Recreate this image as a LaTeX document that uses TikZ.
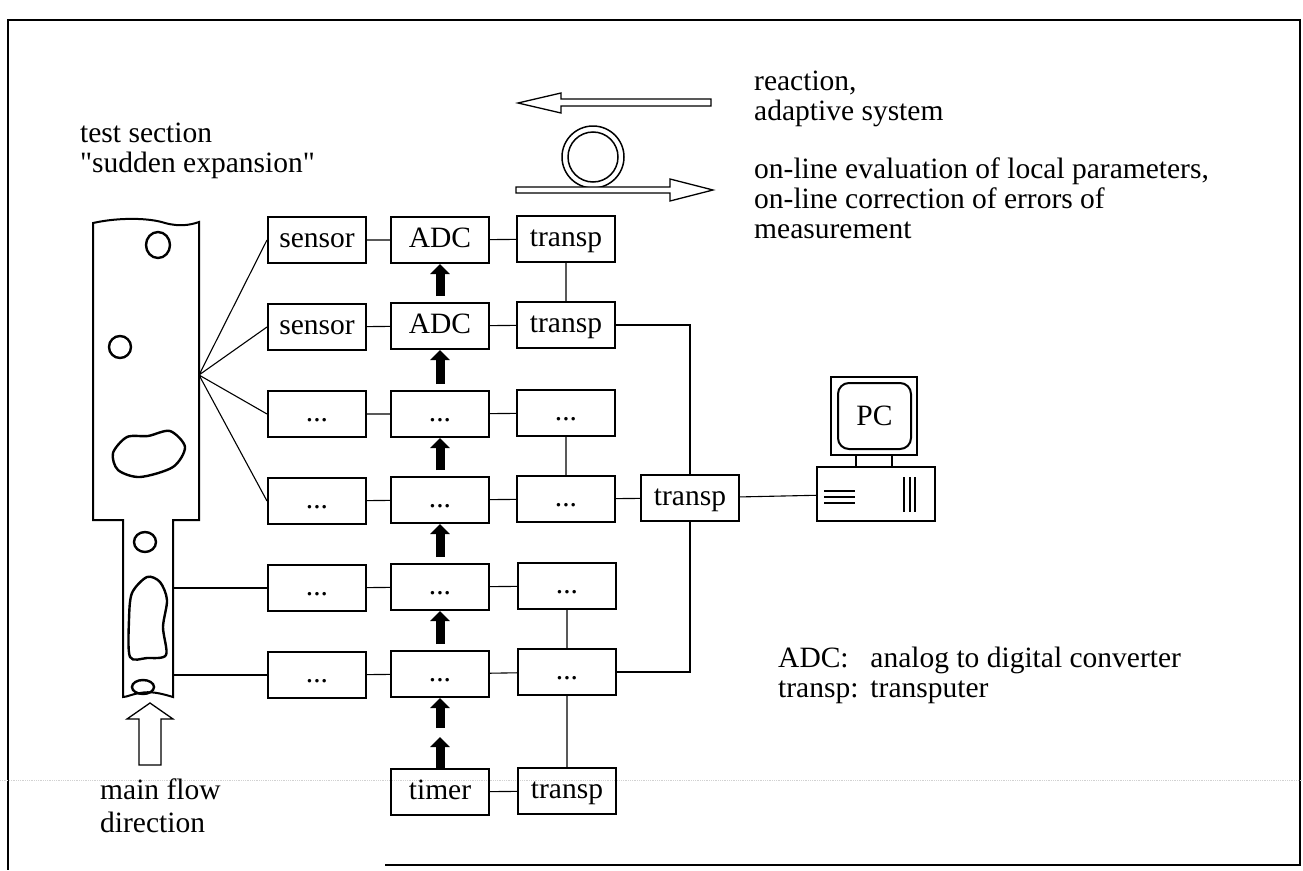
\documentclass[tikz,border=0pt]{standalone}
\usepackage{fontspec}
\setmainfont{Liberation Serif}[Ligatures=TeXOff]
\usepackage{tikz}
\usetikzlibrary{positioning, calc, arrows.meta}
\tikzset{box/.style = {draw, line width=2pt, minimum width=98pt, minimum height=46pt, inner sep=0pt,
                       text height=20pt, text depth=6pt},
         link/.style = {line width=1.1pt},
         bubble/.style = {line width=2.4pt},
         push/.style = {line width=9pt, -{Triangle[width=19pt,length=10pt]}},
         hollow/.style = {line width=1.3pt, fill=white},
         note/.style = {align=left, anchor=north west, inner sep=0pt}}

\begin{document}
\begin{tikzpicture}[x=1pt, y=-1pt, font=\fontsize{29.5}{30}\selectfont]
    \useasboundingbox (0,0) rectangle (1303,870);

    % frame
    \draw[line width=2pt] (385,865) -- (1300,865) -- (1300,20) -- (8,20) -- (8,870);
    \draw[gray!35, line width=0.8pt, densely dotted] (0,780) -- (1303,780);

    % test section
    \draw[line width=2pt] (93,223) .. controls (120,217) and (150,218) .. (165,223)
        .. controls (180,227) and (190,225) .. (199,222) -- (199,520) -- (173,520) -- (173,697)
        .. controls (160,693) and (150,691) .. (140,693) .. controls (132,694) and (127,697) .. (123,697)
        -- (123,520) -- (93,520) -- cycle;
    \draw[bubble] (158,245) ellipse[x radius=12, y radius=13];
    \draw[bubble] (120,347) circle[radius=11];
    \draw[bubble] plot[smooth cycle] coordinates {(113,453) (127,437) (148,436) (170,431) (185,447) (173,467) (140,477) (118,470)};
    \draw[bubble] (145,542) ellipse[x radius=11, y radius=10];
    \draw[bubble] plot[smooth cycle] coordinates {(147,577) (160,582) (167,600) (163,627) (166,655) (147,658) (130,657) (129,620) (132,593)};
    \draw[bubble] (143,687) ellipse[x radius=11, y radius=7];
    \coordinate (tap) at (199,375);
    \coordinate (neck) at (173,600);
    \draw[hollow] (139,765) -- (139,719) -- (127,719) -- (150,703) -- (173,719) -- (161,719) -- (161,765) -- cycle;

    \node[note] (title) at (80,123) {test section\\"sudden expansion"};
    \node[note] (flow) at (100,779) {main flow\\[3pt]direction};

    % feedback symbol
    \draw[hollow] (711,99) -- (561,99) -- (561,93) -- (518,103) -- (561,113) -- (561,106) -- (711,106) -- cycle;
    \draw[line width=1.5pt] (593,157) circle[radius=31];
    \draw[line width=1.5pt] (593,157) circle[radius=25];
    \draw[hollow] (516,187) -- (670,187) -- (670,179) -- (713,190) -- (670,201) -- (670,193) -- (516,193) -- cycle;
    \node[note] (react) at (754,71) {reaction,\\adaptive system};
    \node[note] (eval) at (754,158) {on-line evaluation of local parameters,\\on-line correction of errors of\\measurement};

    % measuring chains
    \node[box] (s1) at (317,240) {sensor};
    \node[box] (c1) at (440,240) {ADC};
    \node[box] (t1) at (566,239) {transp};
    \node[box] (s2) at (317,327) {sensor};
    \node[box] (c2) at (440,326) {ADC};
    \node[box] (t2) at (566,325) {transp};
    \node[box] (s3) at (317,414) {...};
    \node[box] (c3) at (440,414) {...};
    \node[box] (t3) at (566,413) {...};
    \node[box] (s4) at (317,501) {...};
    \node[box] (c4) at (440,500) {...};
    \node[box] (t4) at (566,499) {...};
    \node[box] (s5) at (317,588) {...};
    \node[box] (c5) at (440,587) {...};
    \node[box] (t5) at (567,586) {...};
    \node[box] (s6) at (317,675) {...};
    \node[box] (c6) at (440,674) {...};
    \node[box] (t6) at (567,672) {...};
    \node[box] (timer) at (440,792) {timer};
    \node[box] (tt) at (567,791) {transp};
    \node[box] (T) at (690,498) {transp};

    \draw[link] (tap) -- (s1.west) (tap) -- (s2.west) (tap) -- (s3.west) (tap) -- (s4.west);
    \draw[link] (s5.west -| neck) -- (s5.west) (s6.west -| neck) -- (s6.west);
    \draw[link] (s1) -- (c1) -- (t1);
    \draw[link] (s2) -- (c2) -- (t2);
    \draw[link] (s3) -- (c3) -- (t3);
    \draw[link] (s4) -- (c4) -- (t4) -- (T);
    \draw[link] (s5) -- (c5) -- (t5);
    \draw[link] (s6) -- (c6) -- (t6);
    \draw[link] (t1) -- (t2) (t3) -- (t4) (t5) -- (t6) -- (tt) -- (timer);
    \draw[link] (t2.east) -| (T.north);
    \draw[link] (T.south) |- (t6.east);

    \draw[push] ($(c2.north)+(0,-6)$) -- (c1.south);
    \draw[push] ($(c3.north)+(0,-6)$) -- (c2.south);
    \draw[push] ($(c4.north)+(0,-6)$) -- (c3.south);
    \draw[push] ($(c5.north)+(0,-6)$) -- (c4.south);
    \draw[push] ($(c6.north)+(0,-6)$) -- (c5.south);
    \coordinate (relay) at (440,732);
    \draw[push] (timer.north) -- ($(relay)+(0,5)$);
    \draw[push] ($(relay)+(0,-4)$) -- (c6.south);

    % PC
    \draw[line width=2pt] (831,377) rectangle (917,455);
    \node[draw, line width=2pt, rounded corners=11pt, minimum width=73pt, minimum height=66pt, inner sep=0pt] (pc) at (874.5,416) {PC};
    \draw[line width=2pt] (856,455) -- (856,467) (892,455) -- (892,467);
    \node[draw, line width=2pt, minimum width=118pt, minimum height=54pt] (pcbase) at (876,494) {};
    \draw[line width=1.8pt] (824,491) -- (855,491) (824,497) -- (855,497) (824,503) -- (855,503);
    \draw[line width=1.8pt] (904,477) -- (904,512) (910,477) -- (910,512) (915,477) -- (915,512);
    \draw[link] (T) -- (pcbase);

    % legend
    \node[note] (legend) at (778,646) {\begin{tabular}{@{}l@{\hspace{12pt}}l@{}}ADC: & analog to digital converter\\transp: & transputer\end{tabular}};
\end{tikzpicture}
\end{document}
